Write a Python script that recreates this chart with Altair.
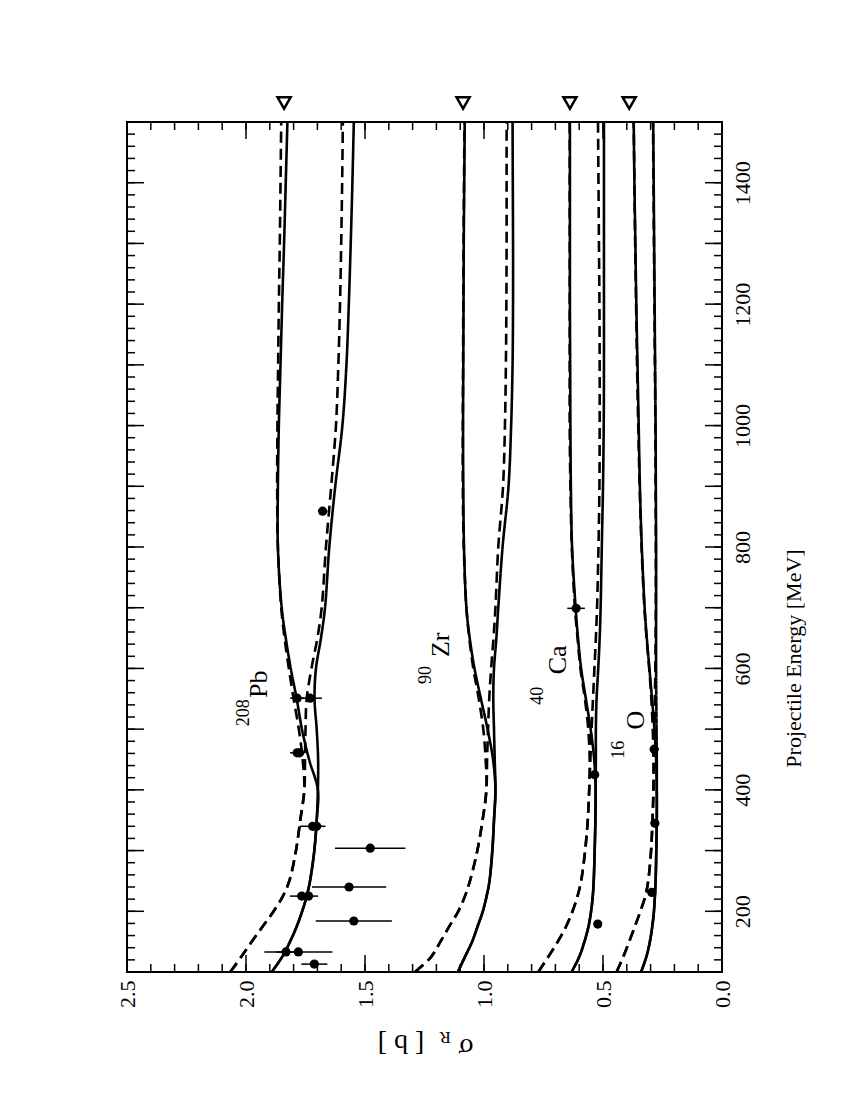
import altair as alt
import pandas as pd

# ---------------- data ----------------
E_LOW = [100, 125, 150, 175, 200, 225, 250, 300, 350, 400]
E_HIGH = [400, 450, 500, 550, 600, 650, 700, 800, 900, 1000, 1100, 1200, 1300, 1400, 1500]

PB_SOLID_LOW = [1.892, 1.848, 1.815, 1.787, 1.764, 1.745, 1.731, 1.713, 1.703, 1.698]
PB_DASH_LOW = [2.066, 2.02, 1.976, 1.93, 1.884, 1.845, 1.818, 1.79, 1.772, 1.755]
PB_SOLID_A = [1.698, 1.735, 1.765, 1.787, 1.812, 1.833, 1.85, 1.866, 1.866, 1.862, 1.855, 1.848, 1.84, 1.833, 1.826]
PB_SOLID_B = [1.698, 1.697, 1.703, 1.712, 1.706, 1.685, 1.668, 1.65, 1.625, 1.595, 1.578, 1.568, 1.56, 1.553, 1.547]
PB_DASH_A = [1.755, 1.762, 1.778, 1.80, 1.82, 1.838, 1.852, 1.866, 1.869, 1.868, 1.865, 1.862, 1.858, 1.855, 1.852]
PB_DASH_B = [1.755, 1.752, 1.75, 1.745, 1.725, 1.70, 1.682, 1.664, 1.642, 1.622, 1.612, 1.605, 1.60, 1.596, 1.593]

ZR_SOLID_LOW = [1.11, 1.08, 1.05, 1.027, 1.005, 0.989, 0.977, 0.965, 0.958, 0.952]
ZR_DASH_LOW = [1.29, 1.222, 1.183, 1.146, 1.108, 1.08, 1.059, 1.028, 1.006, 0.99]
ZR_SOLID_A = [0.952, 0.962, 0.985, 1.013, 1.04, 1.06, 1.074, 1.084, 1.087, 1.088, 1.087, 1.086, 1.085, 1.083, 1.081]
ZR_SOLID_B = [0.952, 0.955, 0.958, 0.961, 0.958, 0.948, 0.94, 0.922, 0.897, 0.886, 0.88, 0.878, 0.878, 0.879, 0.88]
ZR_DASH_A = [0.99, 0.993, 1.003, 1.022, 1.045, 1.062, 1.074, 1.085, 1.089, 1.089, 1.088, 1.087, 1.086, 1.084, 1.082]
ZR_DASH_B = [0.99, 0.987, 0.983, 0.978, 0.97, 0.96, 0.952, 0.94, 0.92, 0.912, 0.908, 0.906, 0.905, 0.905, 0.905]

CA_SOLID_LOW = [0.632, 0.60, 0.578, 0.561, 0.55, 0.543, 0.539, 0.535, 0.532, 0.531]
CA_DASH_LOW = [0.772, 0.73, 0.69, 0.655, 0.628, 0.607, 0.592, 0.575, 0.564, 0.558]
CA_SOLID_A = [0.531, 0.537, 0.552, 0.572, 0.592, 0.605, 0.615, 0.63, 0.635, 0.637, 0.638, 0.639, 0.639, 0.639, 0.639]
CA_SOLID_B = [0.531, 0.53, 0.53, 0.527, 0.52, 0.514, 0.51, 0.505, 0.50, 0.497, 0.496, 0.496, 0.496, 0.496, 0.496]
CA_DASH_A = [0.558, 0.556, 0.562, 0.576, 0.595, 0.607, 0.618, 0.631, 0.637, 0.64, 0.64, 0.64, 0.64, 0.64, 0.64]
CA_DASH_B = [0.558, 0.553, 0.548, 0.542, 0.536, 0.53, 0.525, 0.519, 0.515, 0.514, 0.514, 0.515, 0.517, 0.519, 0.521]

O_SOLID_LOW = [0.34, 0.318, 0.303, 0.293, 0.286, 0.282, 0.279, 0.276, 0.274, 0.274]
O_DASH_LOW = [0.443, 0.415, 0.39, 0.366, 0.343, 0.322, 0.31, 0.298, 0.292, 0.288]
O_SOLID_A = [0.274, 0.277, 0.284, 0.294, 0.305, 0.316, 0.325, 0.337, 0.345, 0.35, 0.355, 0.36, 0.364, 0.368, 0.371]
O_SOLID_B = [0.274, 0.274, 0.275, 0.276, 0.277, 0.277, 0.277, 0.277, 0.278, 0.279, 0.281, 0.283, 0.285, 0.287, 0.289]
O_DASH_A = [0.288, 0.288, 0.291, 0.297, 0.306, 0.317, 0.326, 0.338, 0.346, 0.352, 0.357, 0.361, 0.365, 0.368, 0.371]
O_DASH_B = [0.288, 0.286, 0.284, 0.282, 0.28, 0.279, 0.278, 0.278, 0.279, 0.28, 0.282, 0.284, 0.286, 0.288, 0.29]

# measured cross sections
DATA_E = [113, 133, 133, 184, 225, 225, 240, 304, 340, 340, 461, 461, 551, 551, 859,
          179, 425, 699,
          231, 345, 467]
DATA_SIG = [1.713, 1.832, 1.78, 1.547, 1.766, 1.737, 1.567, 1.478, 1.72, 1.703, 1.785, 1.775, 1.785, 1.731, 1.678,
            0.522, 0.535, 0.613,
            0.295, 0.282, 0.285]
DATA_ERR = [0.055, 0.04, 0.143, 0.16, 0.05, 0.04, 0.156, 0.148, 0.054, 0.02, 0.03, 0.02, 0.03, 0.05, 0.02,
            0.0, 0.0, 0.037,
            0.01, 0.0, 0.0]

# high-energy limits (open triangles)
TRI_SIG = [1.84, 1.088, 0.639, 0.39]

# nuclide labels
LAB_ELEM = ["Pb", "Zr", "Ca", "O"]
LAB_ELEM_SIG = [1.945, 1.18, 0.689, 0.361]
LAB_ELEM_E = [574, 639, 614, 515]
LAB_MASS = ["208", "90", "40", "16"]
LAB_MASS_SIG = [2.008, 1.244, 0.773, 0.432]
LAB_MASS_E = [527, 589, 555, 466]

# axis ticks
SIG_TICKS_MINOR = [round(0.1 * i, 1) for i in range(26)]
SIG_TICKS_MAJOR = [0.0, 0.5, 1.0, 1.5, 2.0, 2.5]
E_TICKS_MINOR = list(range(100, 1501, 20))
E_TICKS_MAJOR = list(range(100, 1501, 100))
E_LABELS = [200, 400, 600, 800, 1000, 1200, 1400]

FONT = "Liberation Serif"

# ---------------- tables ----------------
rows = []
nuclei = {
    "Pb": (PB_SOLID_LOW, PB_DASH_LOW, PB_SOLID_A, PB_SOLID_B, PB_DASH_A, PB_DASH_B),
    "Zr": (ZR_SOLID_LOW, ZR_DASH_LOW, ZR_SOLID_A, ZR_SOLID_B, ZR_DASH_A, ZR_DASH_B),
    "Ca": (CA_SOLID_LOW, CA_DASH_LOW, CA_SOLID_A, CA_SOLID_B, CA_DASH_A, CA_DASH_B),
    "O": (O_SOLID_LOW, O_DASH_LOW, O_SOLID_A, O_SOLID_B, O_DASH_A, O_DASH_B),
}
for nuc, (sl, dl, sa, sb, da, db) in nuclei.items():
    for style, low, branches in (("solid", sl, (("A", sa), ("B", sb))), ("dashed", dl, (("A", da), ("B", db)))):
        for bname, high in branches:
            es = E_LOW + E_HIGH[1:]
            vs = low + high[1:]
            for e, v in zip(es, vs):
                rows.append({"curve": f"{nuc}-{style}-{bname}", "style": style, "E": e, "sig": v})
curves = pd.DataFrame(rows)

pts = pd.DataFrame({"E": DATA_E, "sig": DATA_SIG, "err": DATA_ERR})
pts["lo"] = pts["sig"] - pts["err"]
pts["hi"] = pts["sig"] + pts["err"]
bars = pts[pts["err"] > 0]

W, H = 595, 850

xscale = alt.Scale(domain=[0, 2.5], reverse=True, nice=False, zero=False)
yscale = alt.Scale(domain=[100, 1500], nice=False, zero=False)

xaxis = alt.Axis(values=SIG_TICKS_MAJOR, format=".1f", labelAngle=270, labelAlign="right",
                 labelBaseline="middle", labelPadding=8, ticks=False, tickSize=0, domain=False,
                 grid=False, title=None, labelFontSize=22, labelFont=FONT, labelColor="black")
yaxis = alt.Axis(orient="right", values=E_LABELS, format="d", labelAngle=270, labelAlign="center",
                 labelBaseline="top", labelPadding=10, ticks=False, tickSize=0, domain=False,
                 grid=False, title="Projectile Energy  [MeV]", titleAngle=270, titleAlign="center",
                 titleBaseline="middle", titleX=71, titleY=536, titleFontSize=22, labelFontSize=22,
                 labelFont=FONT, titleFont=FONT, titleFontWeight="normal", labelColor="black",
                 titleColor="black")


def X(field, **kw):
    return alt.X(field, type="quantitative", scale=xscale, axis=xaxis, **kw)


def Y(field, **kw):
    return alt.Y(field, type="quantitative", scale=yscale, axis=yaxis, **kw)


lines = alt.Chart(curves).mark_line(color="black", strokeWidth=2.6, interpolate="catmull-rom").encode(
    x=X("sig"), y=Y("E"), detail="curve:N", order="E:Q",
    strokeDash=alt.StrokeDash("style:N", scale=alt.Scale(domain=["solid", "dashed"], range=[[1, 0], [11, 6]]),
                              legend=None),
)

err = alt.Chart(bars).mark_rule(color="black", strokeWidth=1.5).encode(
    x=X("lo"), x2="hi:Q", y=Y("E"))

dots = alt.Chart(pts).mark_circle(color="black", opacity=1, size=85).encode(x=X("sig"), y=Y("E"))

tri = alt.Chart(pd.DataFrame({"sig": TRI_SIG})).mark_point(
    shape="triangle-down", filled=False, color="black", strokeWidth=2.5, size=170, opacity=1
).encode(x=X("sig"), y=alt.value(-19))

lab_df = pd.DataFrame({"t": LAB_ELEM, "sig": LAB_ELEM_SIG, "E": LAB_ELEM_E})
mass_df = pd.DataFrame({"t": LAB_MASS, "sig": LAB_MASS_SIG, "E": LAB_MASS_E})
labs = alt.Chart(lab_df).mark_text(angle=270, align="center", baseline="middle", font=FONT,
                                   fontSize=26, color="black").encode(x=X("sig"), y=Y("E"), text="t:N")
mass = alt.Chart(mass_df).mark_text(angle=270, align="center", baseline="middle", font=FONT,
                                    fontSize=18, color="black").encode(x=X("sig"), y=Y("E"), text="t:N")


# inward ticks on all four sides
def sig_ticks(vals, length):
    d = pd.DataFrame({"sig": vals})
    b = alt.Chart(d).mark_rule(color="black", strokeWidth=1.5).encode(
        x=X("sig"), y=alt.value(H), y2=alt.value(H - length))
    t = alt.Chart(d).mark_rule(color="black", strokeWidth=1.5).encode(
        x=X("sig"), y=alt.value(0), y2=alt.value(length))
    return [b, t]


def e_ticks(vals, length):
    d = pd.DataFrame({"E": vals})
    l = alt.Chart(d).mark_rule(color="black", strokeWidth=1.5).encode(
        y=Y("E"), x=alt.value(0), x2=alt.value(length))
    r = alt.Chart(d).mark_rule(color="black", strokeWidth=1.5).encode(
        y=Y("E"), x=alt.value(W), x2=alt.value(W - length))
    return [l, r]


tick_layers = sig_ticks(SIG_TICKS_MINOR, 8) + sig_ticks(SIG_TICKS_MAJOR, 17) + \
    e_ticks(E_TICKS_MINOR, 8) + e_ticks(E_TICKS_MAJOR, 17)

# sigma_R axis title (upside-down)
t_sigma = alt.Chart(pd.DataFrame({"t": ["σ"]})).mark_text(
    angle=180, align="center", baseline="middle", font=FONT, fontSize=28, color="black"
).encode(text="t:N", x=alt.value(339), y=alt.value(925))
t_r = alt.Chart(pd.DataFrame({"t": ["R"]})).mark_text(
    angle=180, align="center", baseline="middle", font=FONT, fontSize=17, color="black"
).encode(text="t:N", x=alt.value(318), y=alt.value(915))
t_b = alt.Chart(pd.DataFrame({"t": ["[  b  ]"]})).mark_text(
    angle=180, align="center", baseline="middle", font=FONT, fontSize=28, color="black"
).encode(text="t:N", x=alt.value(274), y=alt.value(921))

chart = alt.layer(
    lines, err, dots, tri, labs, mass, *tick_layers, t_sigma, t_r, t_b
).properties(
    width=W, height=H,
    background="white",
    autosize=alt.AutoSizeParams(type="none"),
    padding={"left": 119, "top": 114, "right": 100, "bottom": 100},
).configure_view(
    stroke="black", strokeWidth=2
).configure_axis(
    labelFont=FONT, titleFont=FONT, labelColor="black", titleColor="black",
    titleFontWeight="normal"
)

chart.save("out.html", embed_options={"renderer": "svg", "actions": False})
